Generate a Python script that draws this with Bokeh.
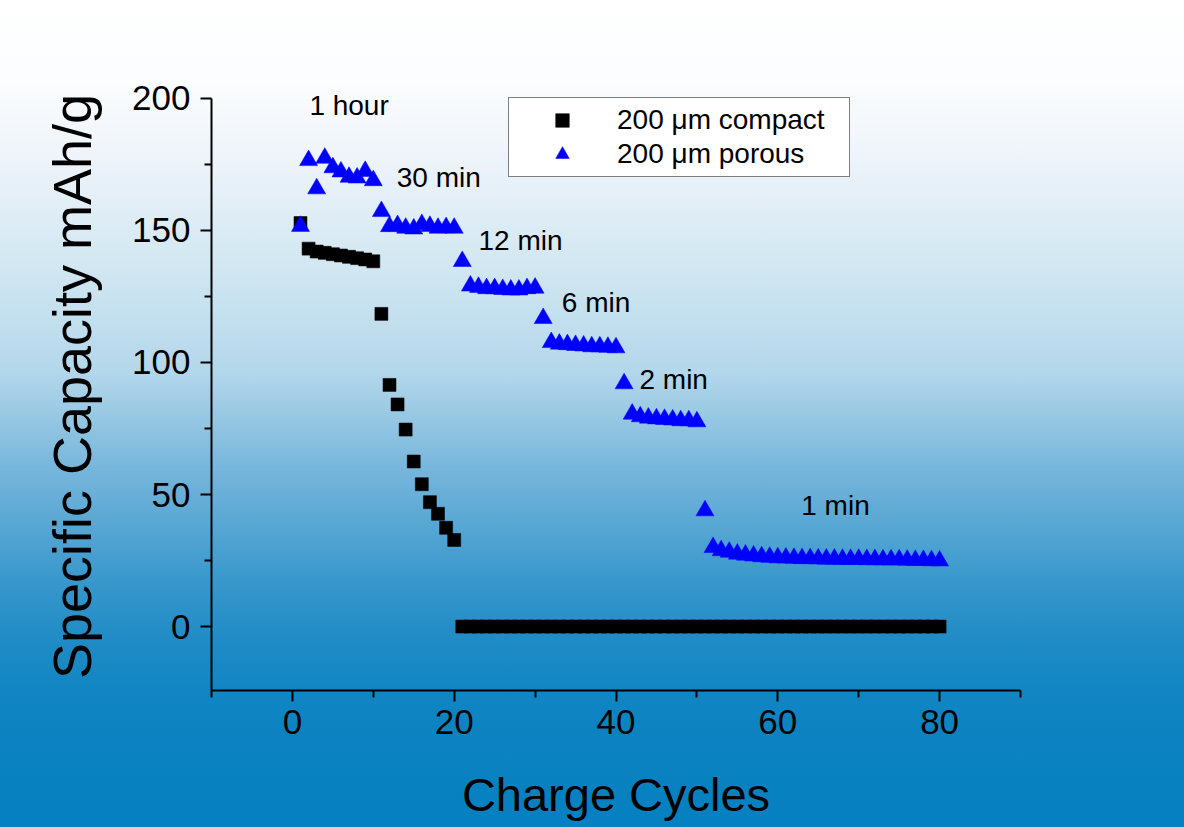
from bokeh.plotting import figure
from bokeh.models import (ColumnDataSource, Range1d, FixedTicker, Legend, LegendItem, LabelSet)
from bokeh.core.properties import value
from bokeh.embed import file_html
from bokeh.resources import INLINE

# ---------------- data ----------------
cycles = list(range(1, 81))

compact = [152.8, 143.1, 142.0, 141.5, 141.0, 140.5, 140.0, 139.5, 139.0, 138.3,
           118.4, 91.5, 84.1, 74.6, 62.5, 53.9, 47.1, 42.7, 37.4, 32.8] + [0.0] * 60

porous = [151.6, 176.5, 165.8, 177.4, 173.8, 172.2, 170.2, 169.9, 172.4, 168.9,
          157.2, 151.5, 151.9, 150.9, 150.6, 152.3, 151.6, 150.9, 151.1, 150.9,
          138.3, 129.0, 128.5, 128.0, 128.0, 127.7, 127.5, 127.5, 128.0, 128.2,
          116.7, 107.6, 107.0, 106.8, 106.5, 106.3, 106.0, 106.0, 105.8, 105.6,
          92.0, 80.5, 79.5, 79.0, 78.7, 78.5, 78.3, 78.0, 78.0, 77.6,
          43.9, 30.0, 28.8, 28.2, 27.5, 27.1, 26.8, 26.5, 26.3, 26.1,
          26.0, 25.9, 25.8, 25.8, 25.7, 25.6, 25.6, 25.5, 25.5, 25.5,
          25.4, 25.4, 25.3, 25.3, 25.3, 25.2, 25.1, 25.1, 25.0, 24.9]

series_names = ["200 \u03bcm compact", "200 \u03bcm porous"]

rate_labels = ["1 hour", "30 min", "12 min", "6 min", "2 min", "1 min"]
rate_label_x = [2.1, 12.9, 23.0, 33.3, 42.9, 62.9]
rate_label_y = [197.3, 170.1, 146.2, 122.7, 93.6, 45.8]

x_ticks = [0, 20, 40, 60, 80]
x_minor = [-10, 10, 30, 50, 70, 90]
y_ticks = [0, 50, 100, 150, 200]
y_minor = [25, 75, 125, 175]
y_axis_bounds = (-24.2, 200)

FONT = "Liberation Sans"

# ---------------- figure ----------------
W, H = 1184, 827
p = figure(width=W, height=H, output_backend="svg", toolbar_location=None,
           x_range=Range1d(-10, 90), y_range=Range1d(-24.2, 206),
           min_border_left=211, min_border_right=164,
           min_border_top=82, min_border_bottom=137)

p.background_fill_alpha = 0
p.border_fill_alpha = 0
p.outline_line_color = None
p.grid.visible = False

for ax in (p.xaxis[0], p.yaxis[0]):
    ax.axis_line_width = 2
    ax.axis_line_color = "black"
    ax.major_tick_line_width = 2
    ax.minor_tick_line_width = 2
    ax.major_tick_line_color = "black"
    ax.minor_tick_line_color = "black"
    ax.major_tick_in = 0
    ax.minor_tick_in = 0
    ax.major_tick_out = 11
    ax.minor_tick_out = 7
    ax.major_label_text_font = FONT
    ax.major_label_text_font_size = "35px"
    ax.major_label_text_color = "black"
    ax.axis_label_text_font = FONT
    ax.axis_label_text_font_style = "normal"
    ax.axis_label_text_color = "black"

p.xaxis.ticker = FixedTicker(ticks=x_ticks, minor_ticks=x_minor)
p.yaxis.ticker = FixedTicker(ticks=y_ticks, minor_ticks=y_minor)
p.yaxis.bounds = y_axis_bounds
p.xaxis.axis_label = "Charge Cycles"
p.yaxis.axis_label = "Specific Capacity mAh/g"
p.xaxis.axis_label_text_font_size = "47px"
p.yaxis.axis_label_text_font_size = "54px"
p.xaxis.major_label_standoff = 8
p.yaxis.major_label_standoff = 10
p.xaxis.axis_label_standoff = 31
p.yaxis.axis_label_standoff = 27

src = ColumnDataSource(dict(x=cycles, compact=compact, porous=porous))

r_sq = p.scatter("x", "compact", source=src, marker="square", size=13,
                 fill_color="black", line_color="black", line_width=0.5)
r_tr = p.scatter("x", "porous", source=src, marker="triangle", size=18,
                 fill_color="#0000ff", line_color="#0000ff", line_width=0.5)

lab_src = ColumnDataSource(dict(x=rate_label_x, y=rate_label_y, t=rate_labels))
labels = LabelSet(x="x", y="y", text="t", source=lab_src, text_font=value(FONT),
                  text_font_size="28px", text_align="left", text_baseline="middle",
                  text_color="black")
p.add_layout(labels)

legend = Legend(items=[LegendItem(label=series_names[0], renderers=[r_sq]),
                       LegendItem(label=series_names[1], renderers=[r_tr])],
                location=(297, 513))
legend.label_text_font = FONT
legend.label_text_font_size = "28px"
legend.label_text_color = "black"
legend.glyph_width = 96
legend.glyph_height = 34
legend.label_height = 34
legend.label_width = 227
legend.padding = 5
legend.spacing = 0
legend.label_standoff = 7
legend.margin = 0
legend.border_line_color = "black"
legend.border_line_width = 1.5
legend.background_fill_color = "white"
legend.background_fill_alpha = 1
p.add_layout(legend)

html = file_html(p, INLINE, title="Specific Capacity")
css = ("<style>html,body{margin:0 !important;padding:0 !important;overflow:hidden;}"
       "html{height:100%;background:linear-gradient(to bottom,#ffffff 0%,#fbfdfe 10%,"
       "#eef4fa 19%,#d2e7f2 32%,#c4e0ee 38%,#b3d7eb 45%,#93c6e2 51%,#75b5dc 57%,"
       "#55a6d3 64%,#3998cc 70%,#218cc6 77%,#1286c3 83%,#0c82c1 89%,#0580c0 100%) no-repeat;}"
       "body{background:transparent;}</style>")
html = html.replace("</head>", css + "</head>", 1)
open("out.html", "w").write(html)
